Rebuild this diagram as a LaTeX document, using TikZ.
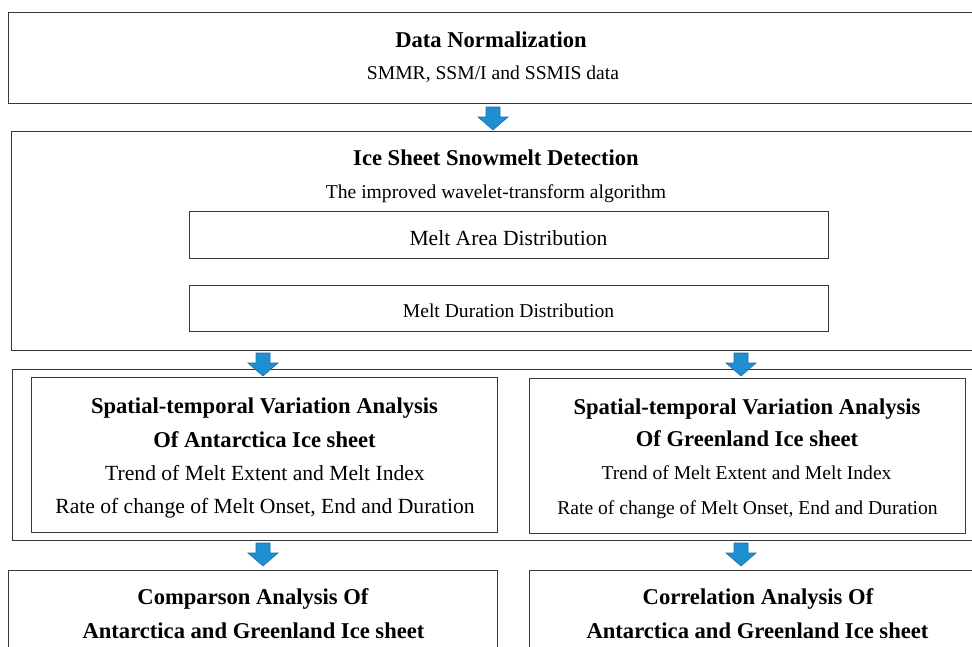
\documentclass[tikz,border=0pt]{standalone}
\usepackage{fontspec}
\setmainfont{Liberation Serif}
\usetikzlibrary{arrows.meta,positioning,calc}
\definecolor{arrowfill}{RGB}{30,144,210}
\definecolor{arrowedge}{RGB}{34,108,168}

\begin{document}
\begin{tikzpicture}[
  x=1pt, y=-1pt,
  b/.style={draw=black!78, line width=1pt, rectangle, inner sep=0pt},
  ttl/.style={anchor=base, font=\fontsize{22.6}{27}\selectfont\bfseries},
  txt/.style={anchor=base, font=\fontsize{19.6}{23}\selectfont},
  txtl/.style={anchor=base, font=\fontsize{21.6}{26}\selectfont},
  blk/.style={fill=arrowfill, draw=arrowedge, line width=0.6pt, line join=miter}
]
\clip (0,0) rectangle (972,646);
\fill[white] (0,0) rectangle (972,646);

\node[b, minimum width=992, minimum height=91] (norm) at (504,57.5) {};
\node[b, minimum width=989, minimum height=219] (detect) at (505.5,240.5) {};
\node[b, minimum width=639, minimum height=47] (area) at (508.5,234.5) {};
\node[b, minimum width=639, minimum height=46] (dur) at (508.5,308) {};
\node[b, minimum width=988, minimum height=171] (analysis) at (506,454.5) {};
\node[b, minimum width=466, minimum height=155] (ant) at (264,454.5) {};
\node[b, minimum width=436, minimum height=155] (grn) at (747,455.5) {};
\node[b, minimum width=489, minimum height=130] (cmp) at (252.5,635) {};
\node[b, minimum width=471, minimum height=130] (cor) at (764.5,635) {};

\node[ttl] (normt) at (491,47.5) {Data Normalization};
\node[txt] (norms) at (493,79.5) {SMMR, SSM/I and SSMIS data};
\node[ttl] (detectt) at (496,165.5) {Ice Sheet Snowmelt Detection};
\node[txt] (detects) at (496,198.5) {The improved wavelet-transform algorithm};
\node[txtl] (areat) at (508.5,245) {Melt Area Distribution};
\node[txt] (durt) at (508.5,317.5) {Melt Duration Distribution};

\node[ttl] (ant1) at (264.5,413.5) {Spatial-temporal Variation Analysis};
\node[ttl] (ant2) at (264.5,447.5) {Of Antarctica Ice sheet};
\node[txtl] (ant3) at (265,480) {Trend of Melt Extent and Melt Index};
\node[txtl] (ant4) at (265,513) {Rate of change of Melt Onset, End and Duration};

\node[ttl] (grn1) at (747,414.5) {Spatial-temporal Variation Analysis};
\node[ttl] (grn2) at (747,446.5) {Of Greenland Ice sheet};
\node[txt] (grn3) at (746.5,479.5) {Trend of Melt Extent and Melt Index};
\node[txt] (grn4) at (747.5,514.5) {Rate of change of Melt Onset, End and Duration};

\node[ttl] (cmp1) at (253,604.5) {Comparson Analysis Of};
\node[ttl] (cmp2) at (253.5,638.5) {Antarctica and Greenland Ice sheet};
\node[ttl] (cor1) at (758,604.5) {Correlation Analysis Of};
\node[ttl] (cor2) at (757.5,638.5) {Antarctica and Greenland Ice sheet};

\coordinate (a1) at (493,107);
\coordinate (a2) at (263,353);
\coordinate (a3) at (741,353);
\coordinate (a4) at (263,543);
\coordinate (a5) at (741,543);
\foreach \p in {a1,a2,a3,a4,a5}
  \draw[blk] ($(\p)+(-7,0)$) -- ++(14,0) -- ++(0,10) -- ++(8,0) -- ($(\p)+(0,23)$) -- ++(-15,-13) -- ++(8,0) -- cycle;
\end{tikzpicture}
\end{document}
